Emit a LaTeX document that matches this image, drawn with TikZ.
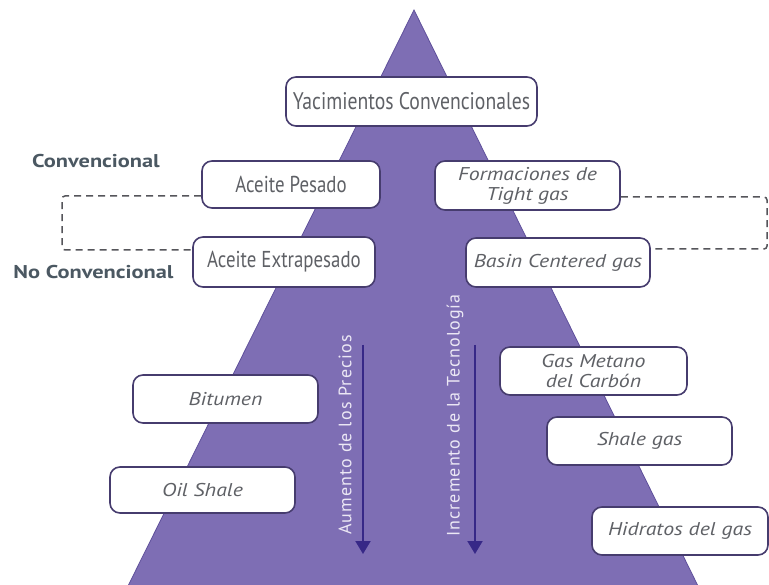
\documentclass[tikz,border=0pt]{standalone}
\usepackage{fontspec}
\setmainfont[FakeStretch=0.82]{PT Sans}
\newfontfamily\rotfont[LetterSpace=6]{PT Sans}
\newfontfamily\lblfont[FakeStretch=1.21]{PT Sans}
\newfontfamily\itfont[FakeStretch=1.18]{PT Sans}
\usetikzlibrary{arrows.meta,calc}
\definecolor{pyr}{RGB}{126,110,180}
\definecolor{pyrline}{RGB}{95,80,155}
\definecolor{boxline}{RGB}{70,60,110}
\definecolor{txt}{RGB}{95,97,102}
\definecolor{lbl}{RGB}{75,88,98}
\definecolor{arr}{RGB}{55,40,135}
\definecolor{dashc}{RGB}{85,85,90}
\definecolor{rottxt}{RGB}{236,232,245}
\begin{document}
\begin{tikzpicture}[x=1pt,y=-1pt,
  box/.style={draw=boxline, line width=1.6pt, fill=white, rounded corners=10pt,
    inner sep=0pt, align=center, text=txt, font=\fontsize{23}{24}\selectfont},
  ibox/.style={box, font=\itfont\itshape\fontsize{18.5}{20}\selectfont},
  lbltext/.style={text=lbl, font=\lblfont\bfseries\fontsize{18.5}{19}\selectfont, inner sep=0pt},
  rottext/.style={rotate=90, text=rottxt, font=\rotfont\fontsize{18}{18}\selectfont, inner sep=0pt},
  arrowline/.style={draw=arr, line width=2pt, -{Triangle[width=15pt,length=13pt]}},
  dashline/.style={draw=dashc, line width=1.5pt, dash pattern=on 7pt off 5pt, rounded corners=3pt}
]
\useasboundingbox (0,0) rectangle (769,585);
% pyramid
\coordinate (apex) at (414,10);
\coordinate (bl) at (128,586);
\coordinate (br) at (698,586);
\fill[pyr, draw=pyrline, line width=0.8pt] (apex) -- (br) -- (bl) -- cycle;
% arrows and rotated texts
\coordinate (a1s) at (363,345);
\coordinate (a1e) at (363,554);
\coordinate (a2s) at (475,345);
\coordinate (a2e) at (475,554);
\draw[arrowline] (a1s) -- (a1e);
\draw[arrowline] (a2s) -- (a2e);
\node[rottext] (t1) at (345,435) {Aumento de los Precios};
\node[rottext] (t2) at (455,415.5) {Incremento de la Tecnología};
% side labels
\node[lbltext] (conv) at (96,161) {Convencional};
\node[lbltext] (noconv) at (93.5,272.5) {No Convencional};
% dashed brackets
\coordinate (L1) at (62,196);
\coordinate (L2) at (62,250);
\coordinate (R1) at (767,197);
\coordinate (R2) at (767,249);
% boxes
\node[box, minimum width=251pt, minimum height=49pt, font=\fontsize{24}{25}\selectfont] (yc) at (411.5,101.5) {Yacimientos Convencionales};
\node[box, minimum width=178pt, minimum height=47pt] (ap) at (291,184.5) {Aceite Pesado};
\node[ibox, minimum width=185pt, minimum height=49pt] (fo) at (527.5,185.5) {Formaciones de\\Tight gas};
\node[box, minimum width=182pt, minimum height=50pt] (ae) at (284,262) {Aceite Extrapesado};
\node[ibox, minimum width=184pt, minimum height=49pt] (bc) at (558,262.5) {Basin Centered gas};
\node[ibox, minimum width=185pt, minimum height=48pt] (bi) at (225.5,399) {Bitumen};
\node[ibox, minimum width=185pt, minimum height=46pt] (os) at (202.5,490) {Oil Shale};
\node[ibox, minimum width=187pt, minimum height=48pt] (gm) at (593.5,371) {Gas Metano\\del Carbón};
\node[ibox, minimum width=185pt, minimum height=48pt] (sg) at (639.5,441) {Shale gas};
\node[ibox, minimum width=176pt, minimum height=48pt] (hg) at (680,531) {Hidratos del gas};
\draw[dashline] (ap.west |- L1) -- (L1) -- (L2) -- (ae.west |- L2);
\draw[dashline] (fo.east |- R1) -- (R1) -- (R2) -- (bc.east |- R2);
\end{tikzpicture}
\end{document}
